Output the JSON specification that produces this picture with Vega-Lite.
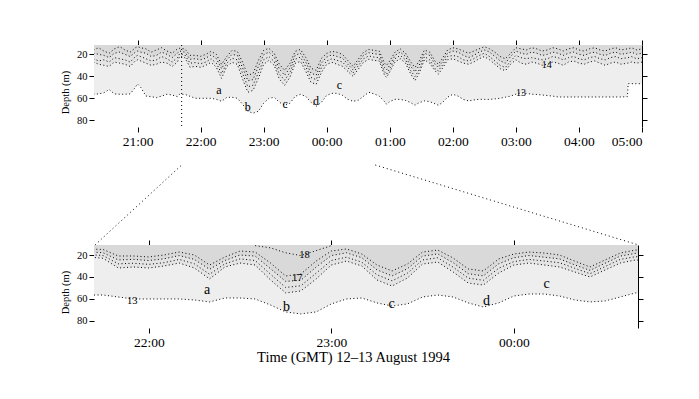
{
"$schema": "https://vega.github.io/schema/vega-lite/v6.json",
"background": "white",
"padding": {"left": 60, "top": 39, "right": 5, "bottom": 5},
"spacing": 0,
"bounds": "flush",
"config": {
  "view": {"stroke": null},
  "axis": {"labelFont": "Liberation Serif", "titleFont": "Liberation Serif", "labelColor": "#000", "titleColor": "#000", "tickColor": "#000", "domainColor": "#000", "titleFontWeight": "normal", "grid": false, "tickWidth": 1, "domainWidth": 1},
  "text": {"font": "Liberation Serif", "color": "#000"}
},
"datasets": {
  "iso": [
    {"t":20.30,"a1":16,"a2":19,"a3":24,"a4":27,"a13":56.3},
    {"t":20.383,"a1":14,"a2":20,"a3":26,"a4":29,"a13":56},
    {"t":20.467,"a1":17,"a2":21,"a3":25,"a4":30,"a13":55},
    {"t":20.55,"a1":19,"a2":23,"a3":27,"a4":31,"a13":52},
    {"t":20.633,"a1":15,"a2":19,"a3":23,"a4":27,"a13":56},
    {"t":20.717,"a1":13,"a2":18,"a3":24,"a4":28,"a13":56.3},
    {"t":20.8,"a1":16,"a2":20,"a3":25,"a4":29,"a13":56.3},
    {"t":20.883,"a1":18,"a2":22,"a3":27,"a4":31,"a13":56},
    {"t":20.967,"a1":14,"a2":18,"a3":22,"a4":26,"a13":50},
    {"t":21.0,"a1":13,"a2":17,"a3":21,"a4":25,"a13":47},
    {"t":21.05,"a1":14,"a2":18,"a3":22,"a4":26,"a13":50},
    {"t":21.133,"a1":15,"a2":19,"a3":24,"a4":28,"a13":57.9},
    {"t":21.217,"a1":18,"a2":22,"a3":26,"a4":30,"a13":58.5},
    {"t":21.3,"a1":16,"a2":21,"a3":25,"a4":29,"a13":59.4},
    {"t":21.383,"a1":14,"a2":18,"a3":22,"a4":27,"a13":58},
    {"t":21.467,"a1":17,"a2":20,"a3":24,"a4":28,"a13":56.3},
    {"t":21.55,"a1":19,"a2":23,"a3":27,"a4":31,"a13":57},
    {"t":21.633,"a1":15,"a2":19,"a3":23,"a4":27,"a13":58.5},
    {"t":21.667,"a1":14.5,"a2":17,"a3":19.5,"a4":21.8,"a13":56.4},
    {"t":21.75,"a1":15,"a2":18,"a3":20.5,"a4":23,"a13":56.4},
    {"t":21.833,"a1":20.9,"a2":24.5,"a3":28,"a4":31.8,"a13":58.2},
    {"t":21.917,"a1":20.9,"a2":24,"a3":27.5,"a4":30.9,"a13":60},
    {"t":22.0,"a1":21.8,"a2":25,"a3":28.5,"a4":31.8,"a13":60},
    {"t":22.083,"a1":20,"a2":23.5,"a3":27,"a4":30,"a13":60},
    {"t":22.167,"a1":17.3,"a2":20.5,"a3":24,"a4":27.3,"a13":60},
    {"t":22.25,"a1":20,"a2":24,"a3":28,"a4":31.8,"a13":60.9},
    {"t":22.333,"a1":29.1,"a2":33,"a3":37.5,"a4":41.8,"a13":62.7},
    {"t":22.417,"a1":21.8,"a2":25,"a3":28,"a4":30.9,"a13":59.1},
    {"t":22.5,"a1":16.4,"a2":20,"a3":23.5,"a4":27.3,"a13":59.1},
    {"t":22.583,"a1":17.3,"a2":21,"a3":25,"a4":29.1,"a13":60,"a18":11.5},
    {"t":22.667,"a1":27.3,"a2":32.5,"a3":37.5,"a4":42.7,"a13":65.5,"a18":13.5},
    {"t":22.75,"a1":39.1,"a2":44,"a3":49.5,"a4":54.5,"a13":71.8,"a18":18},
    {"t":22.833,"a1":37.3,"a2":43,"a3":48,"a4":52.7,"a13":73.6,"a18":20.5},
    {"t":22.917,"a1":25.5,"a2":31,"a3":36.5,"a4":41.8,"a13":71.8,"a18":16},
    {"t":23.0,"a1":16.4,"a2":20.5,"a3":25,"a4":29.1,"a13":64.5,"a18":11.5},
    {"t":23.083,"a1":14.5,"a2":18,"a3":22,"a4":25.5,"a13":60},
    {"t":23.167,"a1":19.1,"a2":22.5,"a3":26.5,"a4":30,"a13":59.1},
    {"t":23.25,"a1":29.1,"a2":33.5,"a3":38,"a4":42.7,"a13":63.6},
    {"t":23.333,"a1":34.5,"a2":39,"a3":43.5,"a4":48.2,"a13":66.4},
    {"t":23.417,"a1":28.2,"a2":32.5,"a3":36.5,"a4":40.9,"a13":64.5},
    {"t":23.5,"a1":17.3,"a2":21,"a3":24.5,"a4":28.2,"a13":58.2},
    {"t":23.583,"a1":15.5,"a2":19,"a3":22.5,"a4":26.4,"a13":56.4},
    {"t":23.667,"a1":22.7,"a2":27,"a3":31,"a4":35.4,"a13":58.2},
    {"t":23.75,"a1":32.7,"a2":37,"a3":41,"a4":45.5,"a13":63.6},
    {"t":23.833,"a1":34.5,"a2":39,"a3":43,"a4":47.3,"a13":67.3},
    {"t":23.917,"a1":23.6,"a2":28,"a3":32,"a4":36.4,"a13":63.6},
    {"t":24.0,"a1":19.1,"a2":22.5,"a3":26,"a4":29.1,"a13":57.3},
    {"t":24.083,"a1":17.3,"a2":20.5,"a3":24,"a4":27.3,"a13":55.5},
    {"t":24.167,"a1":18.2,"a2":22,"a3":25.5,"a4":29.1,"a13":55.5},
    {"t":24.25,"a1":20,"a2":23.5,"a3":27,"a4":30.9,"a13":57.3},
    {"t":24.333,"a1":25.5,"a2":29,"a3":32,"a4":35.4,"a13":60.9},
    {"t":24.417,"a1":30.9,"a2":34,"a3":37,"a4":40,"a13":62.7},
    {"t":24.5,"a1":24.5,"a2":27.5,"a3":30.5,"a4":33.6,"a13":61.8},
    {"t":24.583,"a1":18.2,"a2":21,"a3":24,"a4":27.3,"a13":58.2},
    {"t":24.667,"a1":15.5,"a2":18.5,"a3":21.5,"a4":24.5,"a13":54.5},
    {"t":24.75,"a1":16.4,"a2":19.5,"a3":22.5,"a4":25.5,"a13":56},
    {"t":24.833,"a1":17,"a2":20,"a3":23,"a4":26,"a13":58},
    {"t":24.917,"a1":28,"a2":32,"a3":36,"a4":39,"a13":63},
    {"t":24.95,"a1":30,"a2":34,"a3":38,"a4":41,"a13":65.4},
    {"t":25.0,"a1":26,"a2":30,"a3":33,"a4":36,"a13":63},
    {"t":25.083,"a1":18,"a2":21,"a3":24,"a4":27,"a13":60.9},
    {"t":25.167,"a1":15,"a2":18,"a3":21,"a4":24,"a13":61},
    {"t":25.25,"a1":19,"a2":22,"a3":25,"a4":28,"a13":62},
    {"t":25.333,"a1":27,"a2":31,"a3":35,"a4":38,"a13":64},
    {"t":25.4,"a1":32,"a2":36,"a3":40,"a4":44,"a13":66.3},
    {"t":25.467,"a1":26,"a2":30,"a3":34,"a4":37,"a13":64},
    {"t":25.55,"a1":16,"a2":19,"a3":22,"a4":25,"a13":62.4},
    {"t":25.633,"a1":18,"a2":21,"a3":25,"a4":28,"a13":63},
    {"t":25.717,"a1":26,"a2":29,"a3":33,"a4":35,"a13":65},
    {"t":25.77,"a1":29,"a2":32,"a3":35,"a4":38,"a13":66.3},
    {"t":25.833,"a1":24,"a2":27,"a3":30,"a4":33,"a13":64},
    {"t":25.917,"a1":16,"a2":19,"a3":22,"a4":25,"a13":59},
    {"t":26.0,"a1":14,"a2":17,"a3":21,"a4":24,"a13":56.3},
    {"t":26.083,"a1":15,"a2":18,"a3":22,"a4":26,"a13":58},
    {"t":26.167,"a1":17,"a2":21,"a3":25,"a4":28,"a13":61},
    {"t":26.25,"a1":19,"a2":23,"a3":26,"a4":29,"a13":62.4},
    {"t":26.333,"a1":17,"a2":21,"a3":24,"a4":27,"a13":61.5},
    {"t":26.417,"a1":15,"a2":18,"a3":21,"a4":24,"a13":60.9},
    {"t":26.5,"a1":13,"a2":16,"a3":19,"a4":22,"a13":61},
    {"t":26.583,"a1":15,"a2":18,"a3":22,"a4":25,"a13":61},
    {"t":26.667,"a1":18,"a2":22,"a3":26,"a4":29,"a13":60.5},
    {"t":26.75,"a1":22,"a2":26,"a3":30,"a4":33,"a13":60},
    {"t":26.833,"a1":24,"a2":28,"a3":32,"a4":35,"a13":59},
    {"t":26.917,"a1":19,"a2":22,"a3":26,"a4":29,"a13":58},
    {"t":27.0,"a1":14,"a2":17,"a3":21,"a4":25,"a13":56.3},
    {"t":27.083,"a1":15,"a2":19,"a3":23,"a4":28,"a13":55},
    {"t":27.167,"a1":16,"a2":20,"a3":24,"a4":29,"a13":55.5},
    {"t":27.25,"a1":14,"a2":18,"a3":23,"a4":27,"a13":56.3},
    {"t":27.333,"a1":15,"a2":19,"a3":24,"a4":28,"a13":56.5},
    {"t":27.417,"a1":17,"a2":21,"a3":25,"a4":30,"a13":57},
    {"t":27.5,"a1":16,"a2":20,"a3":24,"a4":29,"a13":57.5},
    {"t":27.583,"a1":14,"a2":18,"a3":22,"a4":27,"a13":58},
    {"t":27.667,"a1":15,"a2":19,"a3":23,"a4":28,"a13":58.8},
    {"t":27.75,"a1":17,"a2":21,"a3":25,"a4":30,"a13":58.8},
    {"t":27.833,"a1":15,"a2":19,"a3":23,"a4":27,"a13":58.8},
    {"t":27.917,"a1":14,"a2":18,"a3":22,"a4":26,"a13":58.8},
    {"t":28.0,"a1":16,"a2":20,"a3":24,"a4":28,"a13":58.8},
    {"t":28.083,"a1":17,"a2":21,"a3":25,"a4":29,"a13":58.8},
    {"t":28.167,"a1":15,"a2":19,"a3":23,"a4":27,"a13":58.8},
    {"t":28.25,"a1":14,"a2":18,"a3":22,"a4":26,"a13":58.8},
    {"t":28.333,"a1":16,"a2":20,"a3":24,"a4":28,"a13":58.8},
    {"t":28.417,"a1":17,"a2":21,"a3":25,"a4":30,"a13":58.8},
    {"t":28.5,"a1":15,"a2":19,"a3":23,"a4":28,"a13":58.8},
    {"t":28.583,"a1":14,"a2":18,"a3":22,"a4":27,"a13":58.8},
    {"t":28.667,"a1":16,"a2":20,"a3":24,"a4":29,"a13":58.8},
    {"t":28.77,"a1":15,"a2":19,"a3":23,"a4":28,"a13":58.5},
    {"t":28.78,"a1":15,"a2":19,"a3":23,"a4":28,"a13":46.7},
    {"t":28.833,"a1":14,"a2":18,"a3":22,"a4":27,"a13":46.7},
    {"t":28.917,"a1":16,"a2":20,"a3":24,"a4":28,"a13":46.7},
    {"t":29.0,"a1":15,"a2":19,"a3":23,"a4":27,"a13":46.7}
  ],
  "lab1": [
    {"t":22.29,"d":52.4,"s":"a","kind":"letter"},
    {"t":22.75,"d":67.9,"s":"b","kind":"letter"},
    {"t":23.34,"d":65.1,"s":"c","kind":"letter"},
    {"t":23.83,"d":62.4,"s":"d","kind":"letter"},
    {"t":24.20,"d":47.9,"s":"c","kind":"letter"},
    {"t":27.08,"d":55.1,"s":"13","kind":"num"},
    {"t":27.49,"d":29.7,"s":"14","kind":"num"}
  ],
  "lab2": [
    {"t":22.32,"d":51.8,"s":"a","kind":"letter"},
    {"t":22.754,"d":67.3,"s":"b","kind":"letter"},
    {"t":23.33,"d":64.5,"s":"c","kind":"letter"},
    {"t":23.85,"d":61.8,"s":"d","kind":"letter"},
    {"t":24.18,"d":46.4,"s":"c","kind":"letter"},
    {"t":21.909,"d":61.8,"s":"13","kind":"num"},
    {"t":22.814,"d":40.9,"s":"17","kind":"num"},
    {"t":22.853,"d":20.0,"s":"18","kind":"num"}
  ]
},
"resolve": {"scale": {"x": "independent", "y": "independent"}},
"vconcat": [
  {
    "width": 548, "height": 82,
    "data": {"name": "iso"},
    "resolve": {"axis": {"x": "independent", "y": "independent"}},
    "layer": [
      {"mark": {"type": "area", "color": "#eeeeee", "clip": true},
       "encoding": {
         "x": {"field": "t", "type": "quantitative", "scale": {"domain": [20.31, 29.0], "nice": false, "zero": false},
               "axis": {"orient": "bottom", "values": [21,22,23,24,25,26,27,28,29], "labelExpr": "(datum.value % 24 < 10 ? '0' : '') + (datum.value % 24) + ':00'", "domain": false, "tickSize": 5, "labelFontSize": 13.5, "labelPadding": 2, "title": null}},
         "y": {"field": "a13", "type": "quantitative", "scale": {"domain": [11.5, 86.1], "reverse": true, "nice": false, "zero": false},
               "axis": {"orient": "left", "values": [20,40,60,80], "domain": false, "tickSize": 5, "labelFontSize": 10.5, "labelPadding": 2, "title": "Depth (m)", "titleFontSize": 10.5, "titlePadding": 6, "titleY": 47}},
         "y2": {"datum": 11.5}}},
      {"mark": {"type": "area", "color": "#e4e4e4", "clip": true},
       "encoding": {
         "x": {"field": "t", "type": "quantitative", "axis": {"orient": "top", "values": [21,22,23,24,25,26,27,28,29], "labels": false, "domain": false, "tickSize": 5, "title": null}},
         "y": {"field": "a4", "type": "quantitative", "axis": {"orient": "right", "values": [20,40,60,80], "labels": false, "domain": true, "tickSize": 5, "title": null}},
         "y2": {"datum": 11.5}}},
      {"mark": {"type": "area", "color": "#d9d9d9", "clip": true},
       "encoding": {
         "x": {"field": "t", "type": "quantitative", "axis": null},
         "y": {"field": "a2", "type": "quantitative", "axis": null},
         "y2": {"datum": 11.5}}},
      {"transform": [{"fold": ["a1","a2","a3","a4","a13"], "as": ["iso","depth"]}],
       "mark": {"type": "line", "color": "black", "strokeWidth": 1, "strokeDash": [1, 2.5], "clip": true},
       "encoding": {
         "x": {"field": "t", "type": "quantitative", "axis": null},
         "y": {"field": "depth", "type": "quantitative", "axis": null},
         "detail": {"field": "iso"}}},
      {"data": {"values": [{"t": 21.70, "d0": 11.5, "d1": 86.1}]},
       "mark": {"type": "rule", "color": "black", "strokeWidth": 1, "strokeDash": [1, 3]},
       "encoding": {
         "x": {"field": "t", "type": "quantitative", "axis": null},
         "y": {"field": "d0", "type": "quantitative", "axis": null},
         "y2": {"field": "d1"}}},
      {"data": {"name": "lab1"}, "transform": [{"filter": "datum.kind == 'letter'"}],
       "mark": {"type": "text", "fontSize": 12, "align": "center", "baseline": "middle", "color": "black", "font": "Liberation Serif"},
       "encoding": {
         "x": {"field": "t", "type": "quantitative", "axis": null},
         "y": {"field": "d", "type": "quantitative", "axis": null},
         "text": {"field": "s"}}},
      {"data": {"name": "lab1"}, "transform": [{"filter": "datum.kind == 'num'"}],
       "mark": {"type": "text", "fontSize": 10, "align": "center", "baseline": "middle", "color": "black", "font": "Liberation Serif"},
       "encoding": {
         "x": {"field": "t", "type": "quantitative", "axis": null},
         "y": {"field": "d", "type": "quantitative", "axis": null},
         "text": {"field": "s"}}}
    ]
  },
  {
    "width": 548, "height": 118,
    "data": {"values": [
      {"side": "left", "t": 21.70, "lvl": 1},
      {"side": "left", "t": 20.326, "lvl": 0},
      {"side": "right", "t": 24.77, "lvl": 1},
      {"side": "right", "t": 28.946, "lvl": 0}
    ]},
    "mark": {"type": "line", "color": "black", "strokeWidth": 1, "strokeDash": [1, 3], "clip": false},
    "encoding": {
      "x": {"field": "t", "type": "quantitative", "scale": {"domain": [20.31, 29.0], "nice": false, "zero": false}, "axis": null},
      "y": {"field": "lvl", "type": "quantitative", "scale": {"domain": [0, 1.475], "nice": false, "zero": false}, "axis": null},
      "detail": {"field": "side"}
    }
  },
  {
    "width": 544, "height": 83,
    "data": {"name": "iso"},
    "resolve": {"axis": {"x": "independent", "y": "independent"}},
    "layer": [
      {"mark": {"type": "area", "color": "#eeeeee", "clip": true},
       "encoding": {
         "x": {"field": "t", "type": "quantitative", "scale": {"domain": [21.70, 24.68], "nice": false, "zero": false},
               "axis": {"orient": "bottom", "values": [22,23,24], "labelExpr": "(datum.value % 24 < 10 ? '0' : '') + (datum.value % 24) + ':00'", "domain": false, "tickSize": 5, "labelFontSize": 13.5, "labelPadding": 2, "title": "Time (GMT) 12–13 August 1994", "titleFontSize": 14.5, "titlePadding": 2, "titleX": 259}},
         "y": {"field": "a13", "type": "quantitative", "scale": {"domain": [10.9, 86.4], "reverse": true, "nice": false, "zero": false},
               "axis": {"orient": "left", "values": [20,40,60,80], "domain": false, "tickSize": 5, "labelFontSize": 10.5, "labelPadding": 2, "title": "Depth (m)", "titleFontSize": 10.5, "titlePadding": 6, "titleY": 47}},
         "y2": {"datum": 10.9}}},
      {"mark": {"type": "area", "color": "#e4e4e4", "clip": true},
       "encoding": {
         "x": {"field": "t", "type": "quantitative", "axis": {"orient": "top", "values": [22,23,24], "labels": false, "domain": false, "tickSize": 5, "title": null}},
         "y": {"field": "a4", "type": "quantitative", "axis": {"orient": "right", "values": [20,40,60,80], "labels": false, "domain": true, "tickSize": 5, "title": null}},
         "y2": {"datum": 10.9}}},
      {"mark": {"type": "area", "color": "#d9d9d9", "clip": true},
       "encoding": {
         "x": {"field": "t", "type": "quantitative", "axis": null},
         "y": {"field": "a2", "type": "quantitative", "axis": null},
         "y2": {"datum": 10.9}}},
      {"transform": [{"fold": ["a1","a2","a3","a4","a13"], "as": ["iso","depth"]}],
       "mark": {"type": "line", "color": "black", "strokeWidth": 1, "strokeDash": [1, 2.5], "clip": true},
       "encoding": {
         "x": {"field": "t", "type": "quantitative", "axis": null},
         "y": {"field": "depth", "type": "quantitative", "axis": null},
         "detail": {"field": "iso"}}},
      {"transform": [{"filter": "isValid(datum.a18)"}],
       "mark": {"type": "line", "color": "black", "strokeWidth": 1, "strokeDash": [1, 2.5], "clip": true},
       "encoding": {
         "x": {"field": "t", "type": "quantitative", "axis": null},
         "y": {"field": "a18", "type": "quantitative", "axis": null}}},
      {"data": {"name": "lab2"}, "transform": [{"filter": "datum.kind == 'letter'"}],
       "mark": {"type": "text", "fontSize": 14, "align": "center", "baseline": "middle", "color": "black", "font": "Liberation Serif"},
       "encoding": {
         "x": {"field": "t", "type": "quantitative", "axis": null},
         "y": {"field": "d", "type": "quantitative", "axis": null},
         "text": {"field": "s"}}},
      {"data": {"name": "lab2"}, "transform": [{"filter": "datum.kind == 'num'"}],
       "mark": {"type": "text", "fontSize": 10.5, "align": "center", "baseline": "middle", "color": "black", "font": "Liberation Serif"},
       "encoding": {
         "x": {"field": "t", "type": "quantitative", "axis": null},
         "y": {"field": "d", "type": "quantitative", "axis": null},
         "text": {"field": "s"}}}
    ]
  }
]
}
